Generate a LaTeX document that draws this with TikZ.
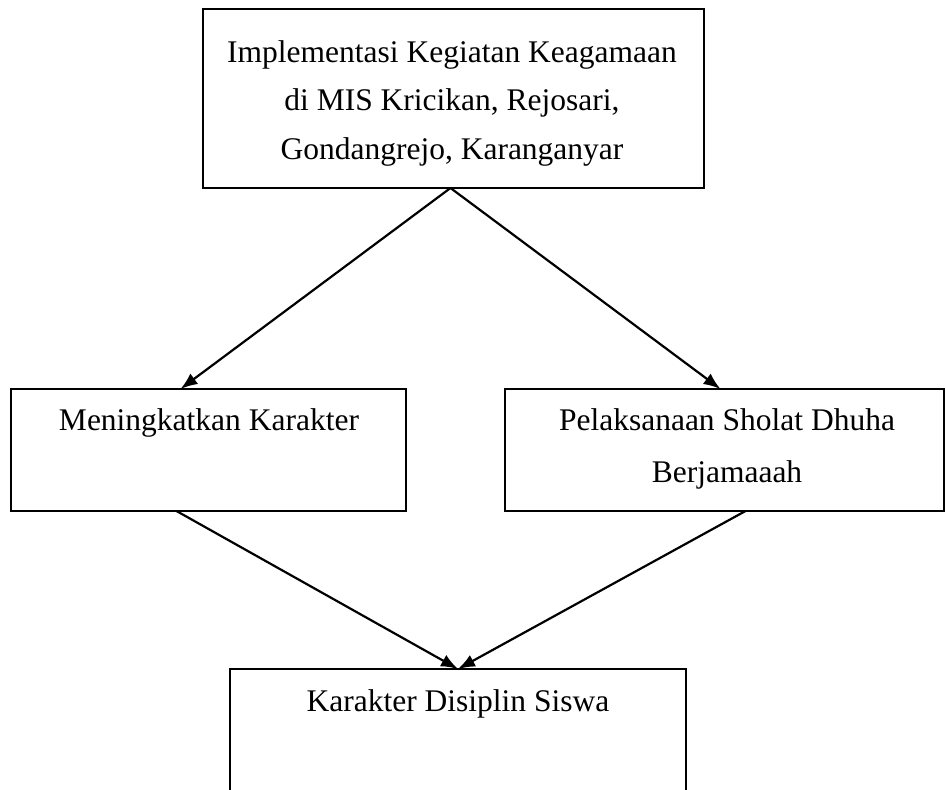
\documentclass[tikz,border=0pt]{standalone}
\usepackage{fontspec}
\setmainfont{Liberation Serif}
\usetikzlibrary{arrows.meta}
\begin{document}
\begin{tikzpicture}[x=1pt,y=-1pt,
  box/.style={draw,line width=1.6pt,inner sep=0pt,outer sep=0pt,rectangle,anchor=north west},
  lbl/.style={font=\fontsize{31.5}{38}\selectfont,anchor=base,inner sep=0pt},
  arr/.style={line width=2.2pt,-{Latex[length=17pt,width=13pt]}}]
\useasboundingbox (0,0) rectangle (946,790);
\clip (0,0) rectangle (946,790);
% boxes
\node[box,minimum width=501pt,minimum height=179pt] (top) at (203,9) {};
\node[box,minimum width=395pt,minimum height=122pt] (left) at (11,389) {};
\node[box,minimum width=439pt,minimum height=122pt] (right) at (505,389) {};
\node[box,minimum width=456pt,minimum height=160pt] (bottom) at (230,669) {};
% texts
\node[lbl] (t1) at (452,62) {Implementasi Kegiatan Keagamaan};
\node[lbl] (t2) at (452,110) {di MIS Kricikan, Rejosari,};
\node[lbl] (t3) at (452,159) {Gondangrejo, Karanganyar};
\node[lbl] (l1) at (209,430) {Meningkatkan Karakter};
\node[lbl] (r1) at (727,430) {Pelaksanaan Sholat Dhuha};
\node[lbl] (r2) at (727,482) {Berjamaaah};
\node[lbl] (b1) at (458,711) {Karakter Disiplin Siswa};
% connectors
\draw[arr] ([xshift=-3pt]top.south) -- ([xshift=-28pt]left.north);
\draw[arr] ([xshift=-3pt]top.south) -- ([xshift=-4pt]right.north);
\draw[arr] ([xshift=-32pt]left.south) -- (bottom.north);
\draw[arr] ([xshift=21pt]right.south) -- (bottom.north);
\end{tikzpicture}
\end{document}
